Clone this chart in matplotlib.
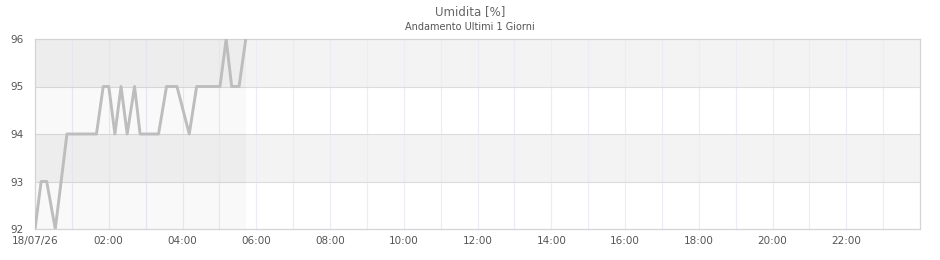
'''
Umidita, andamento ultimo giorno
'''

import matplotlib
matplotlib.use('Agg')
import matplotlib.pyplot as plt
import numpy

# minuti dall'inizio del giorno
minutes = [0, 10, 19, 33, 52, 100, 111, 120, 130, 140, 150, 162, 171,
           201, 214, 231, 251, 263, 301, 311, 320, 332, 343]
humidity = [92, 93, 93, 92, 94, 94, 95, 95, 94, 95, 94, 95, 94,
            94, 95, 95, 94, 95, 95, 96, 95, 95, 96]

tick_hours = list(range(0, 24, 2))
tick_labels = ['18/07/26'] + ['%02d:00' % h for h in tick_hours[1:]]
y_ticks = [92, 93, 94, 95, 96]

TEXT = '#555555'
LINE = '#bdbdbd'

fig = plt.figure(figsize=(9.4, 2.6), dpi=100)
ax = fig.add_axes([35 / 940, 31 / 260, 885 / 940, 190 / 260])

hours = numpy.array(minutes) / 60.0

# bande alternate
for lo in (93, 95):
    ax.axhspan(lo, lo + 1, color='#f3f3f3', zorder=0, lw=0)
# griglia
for h in range(1, 24):
    ax.axvline(h, color='#ececf8', lw=0.8, zorder=1)
for y in y_ticks[1:-1]:
    ax.axhline(y, color='#dcdcdc', lw=0.8, zorder=1)
# area dei dati
ax.axvspan(hours[0], hours[-1], color='black', alpha=0.025, lw=0, zorder=2)

ax.plot(hours, humidity, color=LINE, lw=2.1, zorder=3,
        solid_joinstyle='round', solid_capstyle='butt')

ax.set_xlim(0, 24)
ax.set_ylim(92, 96)
ax.set_xticks(tick_hours)
ax.set_xticklabels(tick_labels)
ax.set_yticks(y_ticks)
ax.tick_params(length=0, labelsize=7.5, colors=TEXT, pad=5)
ax.tick_params(axis='y', pad=8)
for spine in ax.spines.values():
    spine.set_color('#d4d4d4')
    spine.set_linewidth(0.9)

fig.text(0.5, 1 - 12 / 260, 'Umidita [%]', ha='center', va='center',
         fontsize=8.5, color='#666666')
fig.text(0.5, 1 - 27 / 260, 'Andamento Ultimi 1 Giorni', ha='center',
         va='center', fontsize=7, color='#555555')

fig.savefig('out.png', dpi=100)
